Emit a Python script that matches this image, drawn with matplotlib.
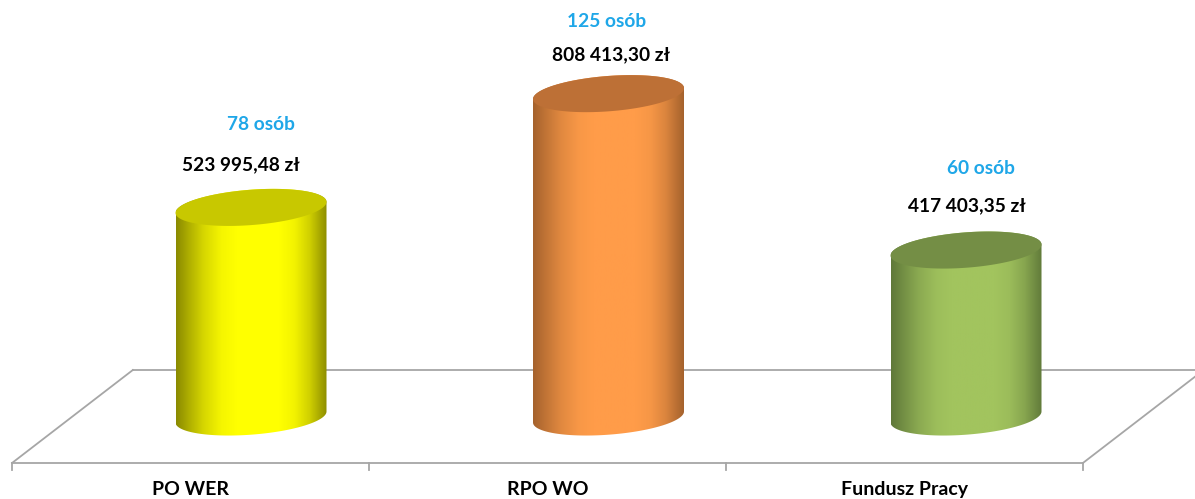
#!/usr/bin/env python

import numpy as np
import matplotlib
matplotlib.use('Agg')
import matplotlib.pyplot as plt
from matplotlib.colors import LinearSegmentedColormap, to_rgb
from matplotlib.patches import Polygon

categories = ['PO WER', 'RPO WO', 'Fundusz Pracy']
amounts = [523995.48, 808413.30, 417403.35]
amountLabels = ['523 995,48 zł', '808 413,30 zł', '417 403,35 zł']
peopleLabels = ['78 osób', '125 osób', '60 osób']

edgeColors = ['#8a8a00', '#a5622d', '#5f7839']
midColors = ['#ffff00', '#ff9c49', '#a2c45e']
topColors = ['#c8c800', '#bd7036', '#748e45']

# text placement relative to the top of each column, in pixels
amountOffsets = [(-10, 43), (2, 39), (1, 44)]
peopleOffsets = [(10, 83), (-2, 72), (15, 82)]

W, H = 1195, 499
pxPerCat = 357.5
pxPerVal = 4.0e-4
x0 = 251
y0 = 417

halfW = 75.5 / pxPerCat
capB = 17.7 / pxPerVal
capS = 5.5 / pxPerVal

floorFront = -115000
floorBack = 117500
floorLeft = -0.6685
floorRight = 2.327
floorDepth = 0.338
tickLow = -132500
labelLow = -182000

# shading across a column: position, share of the mid colour
shadeStops = [(0, 0), (0.08, 0.3), (0.18, 0.65), (0.3, 0.92), (0.4, 1),
              (0.68, 1), (0.78, 0.9), (0.88, 0.6), (0.95, 0.25), (1, 0)]


def ellipse(cx, cy, theta):
    return (cx + halfW * np.cos(theta),
            cy + capB * np.sin(theta) + capS * np.cos(theta))


def drawCylinder(ax, cx, val, edge, mid, top):
    e = np.array(to_rgb(edge))
    m = np.array(to_rgb(mid))
    cmap = LinearSegmentedColormap.from_list(
        'cyl', [(p, tuple(e + (m - e) * s)) for p, s in shadeStops])
    lower = np.linspace(np.pi, 2 * np.pi, 80)
    upper = np.linspace(0, np.pi, 80)
    xb, yb = ellipse(cx, 0, lower)
    xt, yt = ellipse(cx, val, upper)
    body = np.column_stack([np.r_[xb, xt], np.r_[yb, yt]])
    grad = np.linspace(0, 1, 256).reshape(1, -1)
    im = ax.imshow(grad, cmap=cmap, aspect='auto', zorder=3,
                   extent=(cx - halfW, cx + halfW, -capB - capS, val + capB + capS))
    clip = Polygon(body, closed=True, transform=ax.transData, fc='none', ec='none')
    ax.add_patch(clip)
    im.set_clip_path(clip)

    th = np.linspace(0, 2 * np.pi, 160)
    xc, yc = ellipse(cx, val, th)
    ax.fill(xc, yc, color=top, lw=0, zorder=4)


if __name__ == '__main__':
    plt.rcParams['font.family'] = ['Lato', 'DejaVu Sans']

    fig = plt.figure(figsize=(W / 100, H / 100), dpi=100)
    ax = fig.add_axes([0, 0, 1, 1])

    # floor of the 3D box
    lineStyle = dict(color='#a6a6a6', lw=1.3, zorder=1)
    ax.plot([floorLeft, floorRight], [floorFront, floorFront], **lineStyle)
    ax.plot([floorLeft + floorDepth, floorRight + floorDepth], [floorBack, floorBack], **lineStyle)
    ax.plot([floorLeft, floorLeft + floorDepth], [floorFront, floorBack], **lineStyle)
    ax.plot([floorRight, floorRight + floorDepth], [floorFront, floorBack], **lineStyle)
    for i in range(len(categories) + 1):
        tx = floorLeft + i * (floorRight - floorLeft) / len(categories)
        ax.plot([tx, tx], [floorFront, tickLow], **lineStyle)

    for i, name in enumerate(categories):
        drawCylinder(ax, i, amounts[i], edgeColors[i], midColors[i], topColors[i])

        ax.annotate(amountLabels[i], (i, amounts[i]), xycoords='data',
                    xytext=(amountOffsets[i][0], amountOffsets[i][1]),
                    textcoords='offset pixels', ha='center', va='center',
                    fontsize=13.8, fontweight='bold', color='#000000', zorder=5)
        ax.annotate(peopleLabels[i], (i, amounts[i]), xycoords='data',
                    xytext=(peopleOffsets[i][0], peopleOffsets[i][1]),
                    textcoords='offset pixels', ha='center', va='center',
                    fontsize=13.8, fontweight='bold', color='#1fa7e8', zorder=5)

        labelX = floorLeft + (i + 0.5) * (floorRight - floorLeft) / len(categories)
        ax.text(labelX, labelLow, name, ha='center', va='center',
                fontsize=14, fontweight='bold', color='#000000')

    ax.set_xlim(-x0 / pxPerCat, (W - x0) / pxPerCat)
    ax.set_ylim((y0 - H) / pxPerVal, y0 / pxPerVal)
    ax.axis('off')

    fig.savefig('out.png', dpi=100)
